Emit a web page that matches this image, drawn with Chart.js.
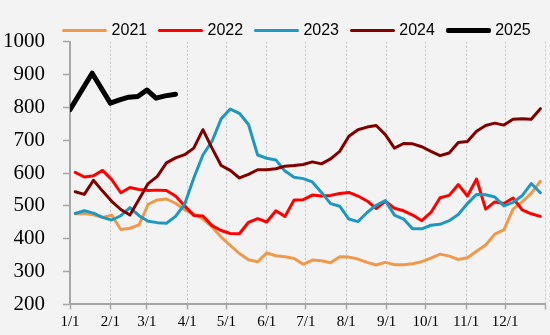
<!DOCTYPE html>
<html>
<head>
<meta charset="utf-8">
<script src="https://cdn.jsdelivr.net/npm/chart.js@4.4.1/dist/chart.umd.min.js"></script>
<style>
  html, body { margin: 0; padding: 0; background: #f3f3f3; }
  #wrap { position: relative; width: 550px; height: 335px; overflow: hidden; }
  #chart { position: absolute; left: 0; top: 0; }
  #legend {
    position: absolute; left: 62px; top: 20px; display: flex;
    font-family: "Liberation Sans", Arial, sans-serif; font-size: 16px; color: #000;
  }
  .item { display: flex; align-items: center; width: 95.9px; height: 20px; }
  .swatch { width: 45px; height: 3px; border-radius: 2px; margin-right: 4.6px; }
</style>
</head>
<body>
<div id="wrap">
  <canvas id="chart" width="550" height="335"></canvas>
  <div id="legend"></div>
</div>
<script>
// x axis: day of year, ticks at the first of each month
const monthDays = [0, 31, 59, 90, 120, 151, 181, 212, 243, 273, 304, 334, 365];
const monthLabels = ["1/1", "2/1", "3/1", "4/1", "5/1", "6/1", "7/1", "8/1", "9/1", "10/1", "11/1", "12/1", ""];

// weekly sample days for 2021-2024
const weekDays = [4, 11, 18, 25, 32, 39, 46, 53, 60, 67, 74, 81, 88, 95, 102, 109, 116, 123, 130, 137,
  144, 151, 158, 165, 172, 179, 186, 193, 200, 207, 214, 221, 228, 235, 242, 249, 256, 263, 270, 277,
  284, 291, 298, 305, 312, 319, 326, 333, 340, 347, 354, 361];
const days2025 = [0, 17, 31, 38, 45, 52, 59, 66, 73, 81];

const v2021 = [476, 477, 473, 465, 472, 428, 432, 442, 505, 518, 521, 508, 488, 475, 460, 436, 405, 380, 355, 336,
  330, 357, 348, 345, 340, 322, 335, 333, 327, 345, 344, 338, 328, 320, 328, 321, 321, 324, 330, 341,
  353, 347, 337, 342, 362, 381, 414, 427, 490, 512, 538, 575];
const v2022 = [602, 588, 592, 608, 580, 540, 556, 550, 547, 548, 547, 530, 500, 471, 469, 440, 425, 416, 415, 450,
  461, 451, 485, 468, 518, 519, 533, 530, 532, 538, 541, 530, 515, 492, 514, 493, 485, 472, 455, 480,
  525, 532, 565, 530, 582, 490, 512, 507, 524, 488, 476, 468];
const v2023 = [477, 485, 478, 465, 457, 470, 495, 470, 453, 449, 447, 468, 505, 585, 655, 697, 765, 795, 782, 748,
  655, 645, 640, 606, 587, 583, 573, 541, 507, 499, 460, 452, 480, 502, 516, 472, 460, 430, 430, 441,
  444, 455, 474, 507, 535, 534, 527, 500, 511, 531, 568, 540];
const v2024 = [543, 535, 578, 545, 514, 489, 472, 520, 568, 590, 631, 646, 656, 676, 732, 676, 623, 608, 585, 596,
  610, 610, 613, 621, 623, 626, 634, 628, 643, 666, 712, 732, 740, 745, 717, 676, 690, 689, 680, 666,
  653, 661, 693, 696, 727, 745, 752, 746, 764, 765, 764, 796];
const v2025 = [793, 904, 813, 823, 831, 833, 853, 828, 835, 840];

const seriesNames = ["2021", "2022", "2023", "2024", "2025"];
const seriesColors = ["#f0994a", "#ff0000", "#1f98c0", "#800000", "#000000"];
const seriesWidths = [3, 3, 3, 3, 5];

function toPoints(xs, ys) {
  return ys.map((y, i) => ({ x: xs[i], y }));
}

const seriesData = [
  toPoints(weekDays, v2021),
  toPoints(weekDays, v2022),
  toPoints(weekDays, v2023),
  toPoints(weekDays, v2024),
  toPoints(days2025, v2025),
];

const datasets = seriesNames.map((name, i) => ({
  label: name,
  data: seriesData[i],
  borderColor: seriesColors[i],
  backgroundColor: seriesColors[i],
  borderWidth: seriesWidths[i],
  borderJoinStyle: "round",
  borderCapStyle: "round",
  pointRadius: 0,
  tension: 0,
  order: seriesNames.length - i,
}));

// html legend
const legendEl = document.getElementById("legend");
seriesNames.forEach((name, i) => {
  const item = document.createElement("div");
  item.className = "item";
  const sw = document.createElement("span");
  sw.className = "swatch";
  sw.style.background = seriesColors[i];
  sw.style.height = seriesWidths[i] + "px";
  const txt = document.createElement("span");
  txt.textContent = name;
  item.appendChild(sw);
  item.appendChild(txt);
  legendEl.appendChild(item);
});

new Chart(document.getElementById("chart"), {
  type: "line",
  data: { datasets },
  options: {
    responsive: false,
    animation: false,
    layout: { padding: { top: 41.7, right: 4.4, left: 0, bottom: 0 } },
    plugins: {
      legend: { display: false },
      tooltip: { enabled: false },
    },
    scales: {
      x: {
        type: "linear",
        min: 0,
        max: 365,
        afterBuildTicks: (axis) => { axis.ticks = monthDays.map((v) => ({ value: v })); },
        afterFit: (axis) => { axis.height = 29.7; },
        ticks: {
          autoSkip: false,
          maxRotation: 0,
          padding: 4,
          color: "#000",
          font: { family: "Liberation Serif", size: 15 },
          callback: (v, i) => monthLabels[i],
        },
        grid: { color: "#c4c4c4", lineWidth: 1, tickLength: 5, tickColor: "#a6a6a6", tickWidth: 1.5 },
        border: { color: "#a6a6a6", width: 2, dash: [2, 2] },
      },
      y: {
        min: 200,
        max: 1000,
        afterFit: (axis) => { axis.width = 70; },
        ticks: {
          stepSize: 100,
          padding: 18,
          color: "#000",
          font: { family: "Liberation Serif", size: 21 },
          callback: (v) => String(v),
        },
        grid: { drawOnChartArea: false, tickLength: 7, tickColor: "#a6a6a6", tickWidth: 1.5 },
        border: { color: "#a6a6a6", width: 2 },
      },
    },
  },
});
</script>
</body>
</html>
